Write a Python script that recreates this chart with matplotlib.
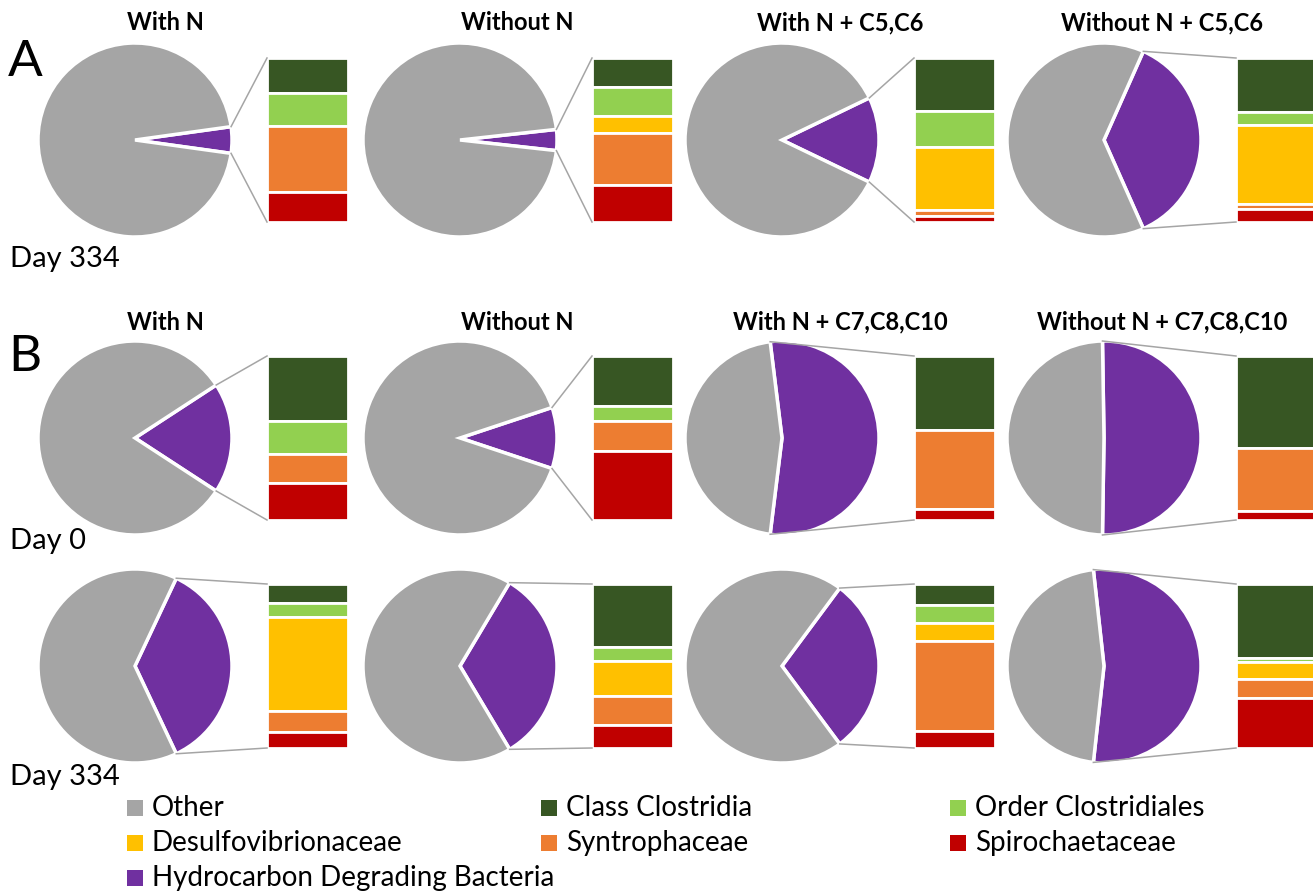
import math
import matplotlib.pyplot as plt

plt.rcParams['font.family'] = ['Lato', 'DejaVu Sans']

# chart titles
titles_a = ["With N", "Without N", "With N + C5,C6", "Without N + C5,C6"]
titles_b = ["With N", "Without N", "With N + C7,C8,C10", "Without N + C7,C8,C10"]

# % of hydrocarbon degrading bacteria in each pie
hdb_a_day334 = [4.4, 3.5, 14.3, 36.7]
hdb_b_day0 = [18.4, 10.2, 53.9, 50.5]
hdb_b_day334 = [36.0, 32.9, 29.7, 53.5]

# breakdown of the HDB slice (12 charts: row A, row B day 0, row B day 334)
class_clostridia = [21.6, 17.9, 32.4, 33.0, 39.7, 30.6, 45.0, 55.9, 11.7, 38.5, 12.6, 44.9]
order_clostridiales = [20.1, 17.5, 21.7, 8.1, 20.3, 9.2, 0, 0, 8.4, 8.2, 11.3, 2.6]
desulfovibrionaceae = [0, 10.3, 38.7, 48.1, 0, 0, 0, 0, 57.4, 21.5, 10.6, 10.4]
syntrophaceae = [40.2, 31.8, 3.8, 2.7, 17.6, 18.4, 48.5, 38.7, 12.6, 17.4, 55.0, 11.9]
spirochaetaceae = [18.1, 22.6, 3.4, 8.1, 22.4, 41.8, 6.5, 5.4, 9.9, 14.3, 10.5, 30.3]

legend_labels = ["Other", "Class Clostridia", "Order Clostridiales",
                 "Desulfovibrionaceae", "Syntrophaceae", "Spirochaetaceae",
                 "Hydrocarbon Degrading Bacteria"]
colors = {"Other": "#a5a5a5", "Class Clostridia": "#375623",
          "Order Clostridiales": "#92d050", "Desulfovibrionaceae": "#ffc000",
          "Syntrophaceae": "#ed7d31", "Spirochaetaceae": "#c00000",
          "Hydrocarbon Degrading Bacteria": "#7030a0"}

W, H = 1313, 892
fig = plt.figure(figsize=(W / 100, H / 100), dpi=100)
ax = fig.add_axes([0, 0, 1, 1])

pie_x = [135, 460, 782, 1104]
row_y = [140, 438, 666]
r = 97
bar_dx, bar_w, bar_h = 132, 81, 164

hdb_rows = [hdb_a_day334, hdb_b_day0, hdb_b_day334]
fams = [class_clostridia, order_clostridiales, desulfovibrionaceae, syntrophaceae, spirochaetaceae]
fam_names = legend_labels[1:6]

for ri, hdb in enumerate(hdb_rows):
    cy = row_y[ri]
    for ci, h in enumerate(hdb):
        cx = pie_x[ci]
        ax.pie([h, 100 - h], colors=[colors["Hydrocarbon Degrading Bacteria"], colors["Other"]],
               startangle=-h * 3.6 / 2, center=(cx, cy), radius=r, frame=True,
               wedgeprops=dict(edgecolor="white", linewidth=2.5))
        k = ri * 4 + ci
        vals = [f[k] for f in fams]
        tot = sum(vals)
        top = cy - bar_h / 2
        bx = cx + bar_dx
        for name, v in zip(fam_names, vals):
            seg = v / tot * bar_h
            if v > 0:
                ax.bar(bx, seg, width=bar_w, bottom=top, align="edge",
                       color=colors[name], edgecolor="white", linewidth=2)
            top += seg
        # connector lines from the HDB slice to the bar
        half = math.radians(h * 3.6 / 2)
        ex = cx + r * math.cos(half)
        ey = r * math.sin(half)
        ax.plot([ex, bx], [cy - ey, cy - bar_h / 2], color="#a5a5a5", lw=1.1)
        ax.plot([ex, bx], [cy + ey, cy + bar_h / 2], color="#a5a5a5", lw=1.1)

title_x = [165, 517, 840, 1162]
for t, x in zip(titles_a, title_x):
    ax.text(x, 23, t, ha="center", va="center", fontsize=17, fontweight="bold")
for t, x in zip(titles_b, title_x):
    ax.text(x, 322, t, ha="center", va="center", fontsize=17, fontweight="bold")

ax.text(8, 62, "A", fontsize=37, ha="left", va="center")
ax.text(8, 357, "B", fontsize=37, ha="left", va="center")
ax.text(10, 267, "Day 334", fontsize=21, ha="left", va="baseline")
ax.text(10, 549, "Day 0", fontsize=21, ha="left", va="baseline")
ax.text(10, 785, "Day 334", fontsize=21, ha="left", va="baseline")

# legend, row-major like the original
leg_x = [135, 549, 958]
leg_y = [808, 843, 878]
for i, lab in enumerate(legend_labels):
    lx, ly = leg_x[i % 3], leg_y[i // 3]
    ax.scatter([lx], [ly], marker="s", s=120, color=colors[lab], linewidths=0)
    ax.text(lx + 17, ly, lab, fontsize=20, ha="left", va="center")

ax.set_xlim(0, W)
ax.set_ylim(H, 0)
ax.set_aspect("auto")
ax.axis("off")
fig.savefig("out.png", dpi=100)
